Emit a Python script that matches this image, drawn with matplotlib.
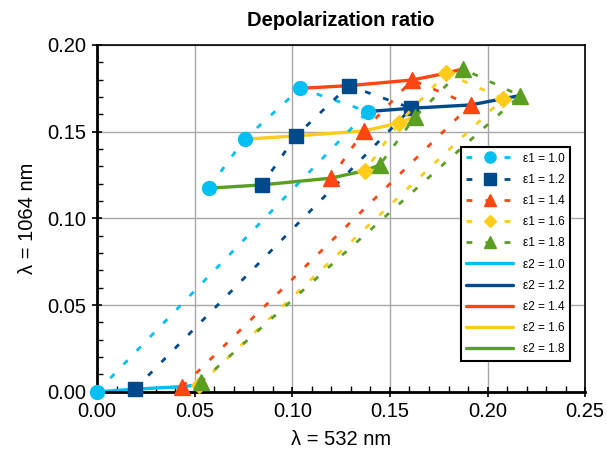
import matplotlib
matplotlib.use("Agg")
import matplotlib.pyplot as plt
from matplotlib.ticker import MultipleLocator, FormatStrFormatter

plt.rcParams['font.family'] = ['Liberation Sans', 'DejaVu Sans']
plt.rcParams['lines.scale_dashes'] = False

eps_labels = ["1.0", "1.2", "1.4", "1.6", "1.8"]
# ε2 order within each ε1 series: 1.0, 1.2, 1.4, 1.6, 1.8
x_e1_10 = [0.000, 0.1386, 0.1041, 0.0755, 0.0571]
y_e1_10 = [0.000, 0.1616, 0.1750, 0.1456, 0.1174]
x_e1_12 = [0.0193, 0.1610, 0.1289, 0.1019, 0.0845]
y_e1_12 = [0.0015, 0.1635, 0.1765, 0.1476, 0.1193]
x_e1_14 = [0.0437, 0.1913, 0.1614, 0.1366, 0.1198]
y_e1_14 = [0.0030, 0.1654, 0.1798, 0.1504, 0.1232]
x_e1_16 = [0.0522, 0.2080, 0.1788, 0.1545, 0.1374]
y_e1_16 = [0.0040, 0.1690, 0.1837, 0.1550, 0.1276]
x_e1_18 = [0.0530, 0.2166, 0.1873, 0.1630, 0.1448]
y_e1_18 = [0.0055, 0.1708, 0.1862, 0.1587, 0.1308]

xs = [x_e1_10, x_e1_12, x_e1_14, x_e1_16, x_e1_18]
ys = [y_e1_10, y_e1_12, y_e1_14, y_e1_16, y_e1_18]

colors = ['#00BFF3', '#004A8C', '#FF4612', '#FFCC1A', '#5A9E22']
markers = ['o', 's', '^', 'D', '^']
msizes = [10, 10, 11, 8, 11]

fig = plt.figure(figsize=(6.07, 4.54), dpi=100)
ax = fig.add_axes([0.160, 0.137, 0.804, 0.764])

# dashed lines: constant ε1
for i in range(5):
    ax.plot(xs[i], ys[i], color=colors[i], lw=2.0, dashes=(4.2, 9.5),
            marker=markers[i], markersize=msizes[i], markeredgecolor=colors[i],
            label=f"ε1 = {eps_labels[i]}", zorder=3, clip_on=False)

# solid lines: constant ε2
for j in range(5):
    ax.plot([xs[i][j] for i in range(5)], [ys[i][j] for i in range(5)],
            color=colors[j], lw=2.4, solid_capstyle='round',
            label=f"ε2 = {eps_labels[j]}", zorder=2, clip_on=False)

ax.set_xlim(0, 0.25)
ax.set_ylim(0, 0.20)
ax.xaxis.set_major_locator(MultipleLocator(0.05))
ax.xaxis.set_minor_locator(MultipleLocator(0.01))
ax.yaxis.set_major_locator(MultipleLocator(0.05))
ax.yaxis.set_minor_locator(MultipleLocator(0.01))
ax.xaxis.set_major_formatter(FormatStrFormatter('%.2f'))
ax.yaxis.set_major_formatter(FormatStrFormatter('%.2f'))
ax.tick_params(which='major', direction='inout', length=7, width=1.2, labelsize=14.5, pad=4)
ax.tick_params(which='minor', direction='in', length=4, width=1.0)
ax.grid(True, which='major', color='#A8A8A8', lw=1.0, zorder=0)
ax.set_axisbelow(True)

for s in ['left', 'bottom']:
    ax.spines[s].set_linewidth(2.0)
for s in ['top', 'right']:
    ax.spines[s].set_linewidth(1.2)

ax.set_title("Depolarization ratio", fontsize=14.5, fontweight='bold', pad=14)
ax.set_xlabel("λ = 532 nm", fontsize=14.5, labelpad=6)
ax.set_ylabel("λ = 1064 nm", fontsize=14.5, labelpad=8)

leg = ax.legend(loc='upper left', bbox_to_anchor=(0.745, 0.705), borderaxespad=0,
                fontsize=8.5, frameon=True, fancybox=False, edgecolor='black',
                framealpha=1, labelspacing=0.78, handlelength=4.0, handletextpad=0.8,
                borderpad=0.45, numpoints=1, markerscale=0.8)
leg.get_frame().set_linewidth(1.5)

fig.savefig("out.png", dpi=100)
